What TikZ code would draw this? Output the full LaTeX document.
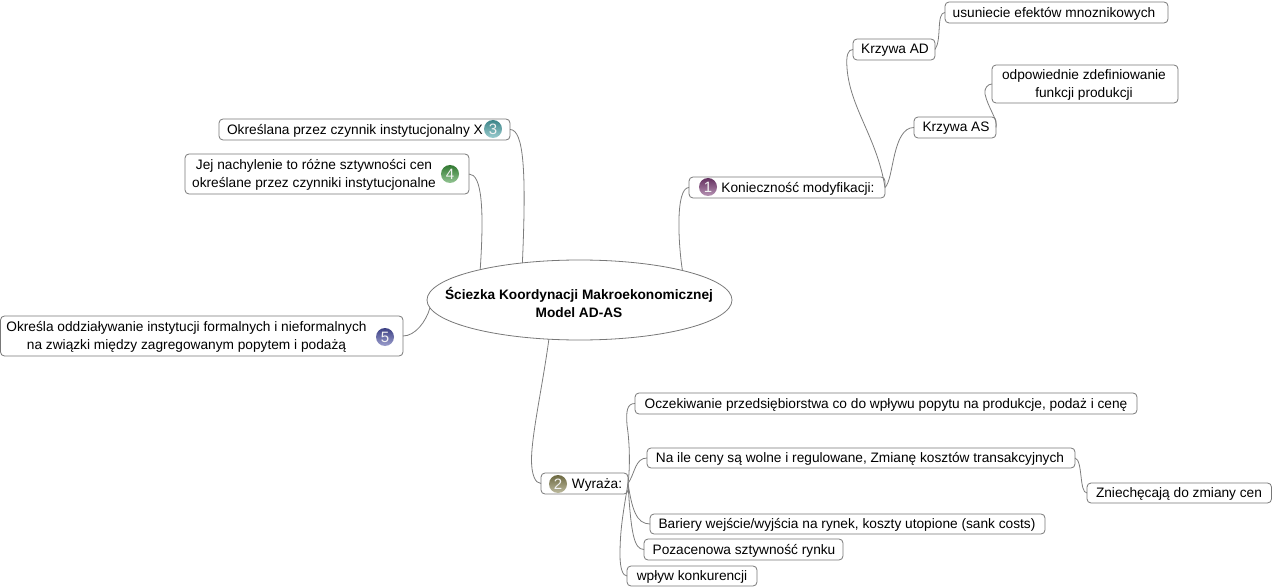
\documentclass[tikz,border=0pt]{standalone}
\usepackage{fontspec}
\setmainfont{Liberation Sans}
\usetikzlibrary{shapes.geometric}
\definecolor{framegray}{RGB}{120,120,120}
\definecolor{linkgray}{RGB}{125,125,125}
\definecolor{ballone}{RGB}{125,60,120}
\definecolor{balltwo}{RGB}{135,130,80}
\definecolor{ballthree}{RGB}{75,165,170}
\definecolor{ballfour}{RGB}{60,150,60}
\definecolor{ballfive}{RGB}{75,80,165}
\tikzset{
  mapframe/.style={draw=framegray,fill=white,rounded corners=4pt,line width=0.8pt,
    inner sep=0pt,outer sep=0pt},
  maptext/.style={font=\fontsize{13.7}{17.5}\selectfont,align=center,inner sep=0pt},
  maplink/.style={draw=linkgray,line width=0.8pt},
  mapball/.style={circle,inner sep=0pt,minimum size=18pt,text=white!90!gray,
    font=\fontsize{15}{15}\selectfont}
}
\newcommand{\mapbox}[7]{%
  \node[mapframe,minimum width={(#4-#2)*1pt},minimum height={(#5-#3)*1pt}]
    (#1) at ({(#2+#4)/2},{(#3+#5)/2}) {};
  % The label sits off centre in boxes that carry a numbered ball.
  \node[maptext] (#1-text) at (#6,{(#3+#5)/2+1}) {#7};
}
\newcommand{\mapball}[5]{%
  \node[mapball,top color=#4!80!black,bottom color=#4!55!white] (#1) at (#2,#3) {#5};
}
\begin{document}
\begin{tikzpicture}[x=1pt,y=-1pt]
  \useasboundingbox (0,0) rectangle (1272,588);
  \node[ellipse,draw=framegray,fill=white,line width=0.8pt,minimum width=305pt,
    minimum height=80pt,inner sep=0pt,outer sep=0pt] (core) at (579.5,300) {};
  \node[maptext,font=\fontsize{13.7}{18}\selectfont\bfseries] (core-text) at (579,302.5)
    {Ściezka Koordynacji Makroekonomicznej\\Model AD-AS};
  \mapbox{need}{689}{177}{885}{198}{798}{Konieczność modyfikacji:}
  \mapbox{curvead}{853}{39}{935}{60}{895}{Krzywa AD}
  \mapbox{multiplier}{945}{2}{1168}{23}{1054}{usuniecie efektów mnoznikowych}
  \mapbox{curveas}{914}{117}{996}{138}{956}{Krzywa AS}
  \mapbox{production}{992}{65}{1178}{103}{1084}{odpowiednie zdefiniowanie\\funkcji produkcji}
  \mapbox{factor}{219}{119}{510}{140}{355}{Określana przez czynnik instytucjonalny X}
  \mapbox{slope}{185}{154}{469}{194}{314}{Jej nachylenie to różne sztywności cen\\określane przez czynniki instytucjonalne}
  \mapbox{impact}{0.5}{316}{403}{356}{186.5}{Określa oddziaływanie instytucji formalnych i nieformalnych\\na związki między zagregowanym popytem i podażą}
  \mapbox{express}{541}{473}{628}{494}{597}{Wyraża:}
  \mapbox{firms}{635}{393}{1137}{414}{886}{Oczekiwanie przedsiębiorstwa co do wpływu popytu na produkcje, podaż i cenę}
  \mapbox{prices}{647}{448}{1075}{468}{860}{Na ile ceny są wolne i regulowane, Zmianę kosztów transakcyjnych}
  \mapbox{discourage}{1087}{483}{1271.5}{503}{1179}{Zniechęcają do zmiany cen}
  \mapbox{barriers}{650}{514}{1045}{534}{847}{Bariery wejście/wyjścia na rynek, koszty utopione (sank costs)}
  \mapbox{rigidity}{644}{539}{843}{560}{744}{Pozacenowa sztywność rynku}
  \mapbox{rivalry}{627}{566}{757}{586}{692}{wpływ konkurencji}
  \mapball{ballneed}{708}{187}{ballone}{1}
  \mapball{ballexpress}{558}{484}{balltwo}{2}
  \mapball{ballfactor}{493}{129}{ballthree}{3}
  \mapball{ballslope}{450}{174}{ballfour}{4}
  \mapball{ballimpact}{385}{337}{ballfive}{5}
  \path[maplink] (core.16) .. controls +(-4,-25) and +(-14,0) .. (need.west);
  \path[maplink] (need.east) .. controls +(-8,-50) and +(3,40) .. (847,68)
    .. controls +(-1,-13) and +(-5,0) .. (curvead.west);
  \path[maplink] (need.east) .. controls +(9,-8) and +(-22,0) .. (curveas.west);
  \path[maplink] (curvead.east) .. controls +(7,-10) and +(-9,0) .. (multiplier.west);
  \path[maplink] (curveas.east) .. controls +(2,-8) and +(3,14) .. (985,94)
    .. controls +(-1,-6) and +(-4,0) .. (production.west);
  \path[maplink] (core.147) .. controls +(4,-90) and +(14,0) .. (factor.east);
  \path[maplink] (core.163) .. controls +(4,-60) and +(13,0) .. (slope.east);
  \path[maplink] (core.183) .. controls +(-4,14) and +(12,0) .. (impact.east);
  \path[maplink] (core.232) .. controls +(-6,45) and +(0,-25) .. (531.5,460)
    .. controls +(0,14) and +(-6,0) .. (express.west);
  \path[maplink] (express.east) .. controls +(2,-15) and +(3,20) .. (627,425)
    .. controls +(-1,-14) and +(-8,0) .. (firms.west);
  \path[maplink] (express.east) .. controls +(7,-10) and +(-12,0) .. (prices.west);
  \path[maplink] (express.east) .. controls +(4,25) and +(-14,0) .. (barriers.west);
  \path[maplink] (express.east) .. controls +(3,50) and +(-10,0) .. (rigidity.west);
  \path[maplink] (express.east) .. controls +(-5,30) and +(0,-25) .. (620,555)
    .. controls +(0,14) and +(-4,0) .. (rivalry.west);
  \path[maplink] (prices.east) .. controls +(8,2) and +(-8,0) .. (discourage.west);
\end{tikzpicture}
\end{document}
